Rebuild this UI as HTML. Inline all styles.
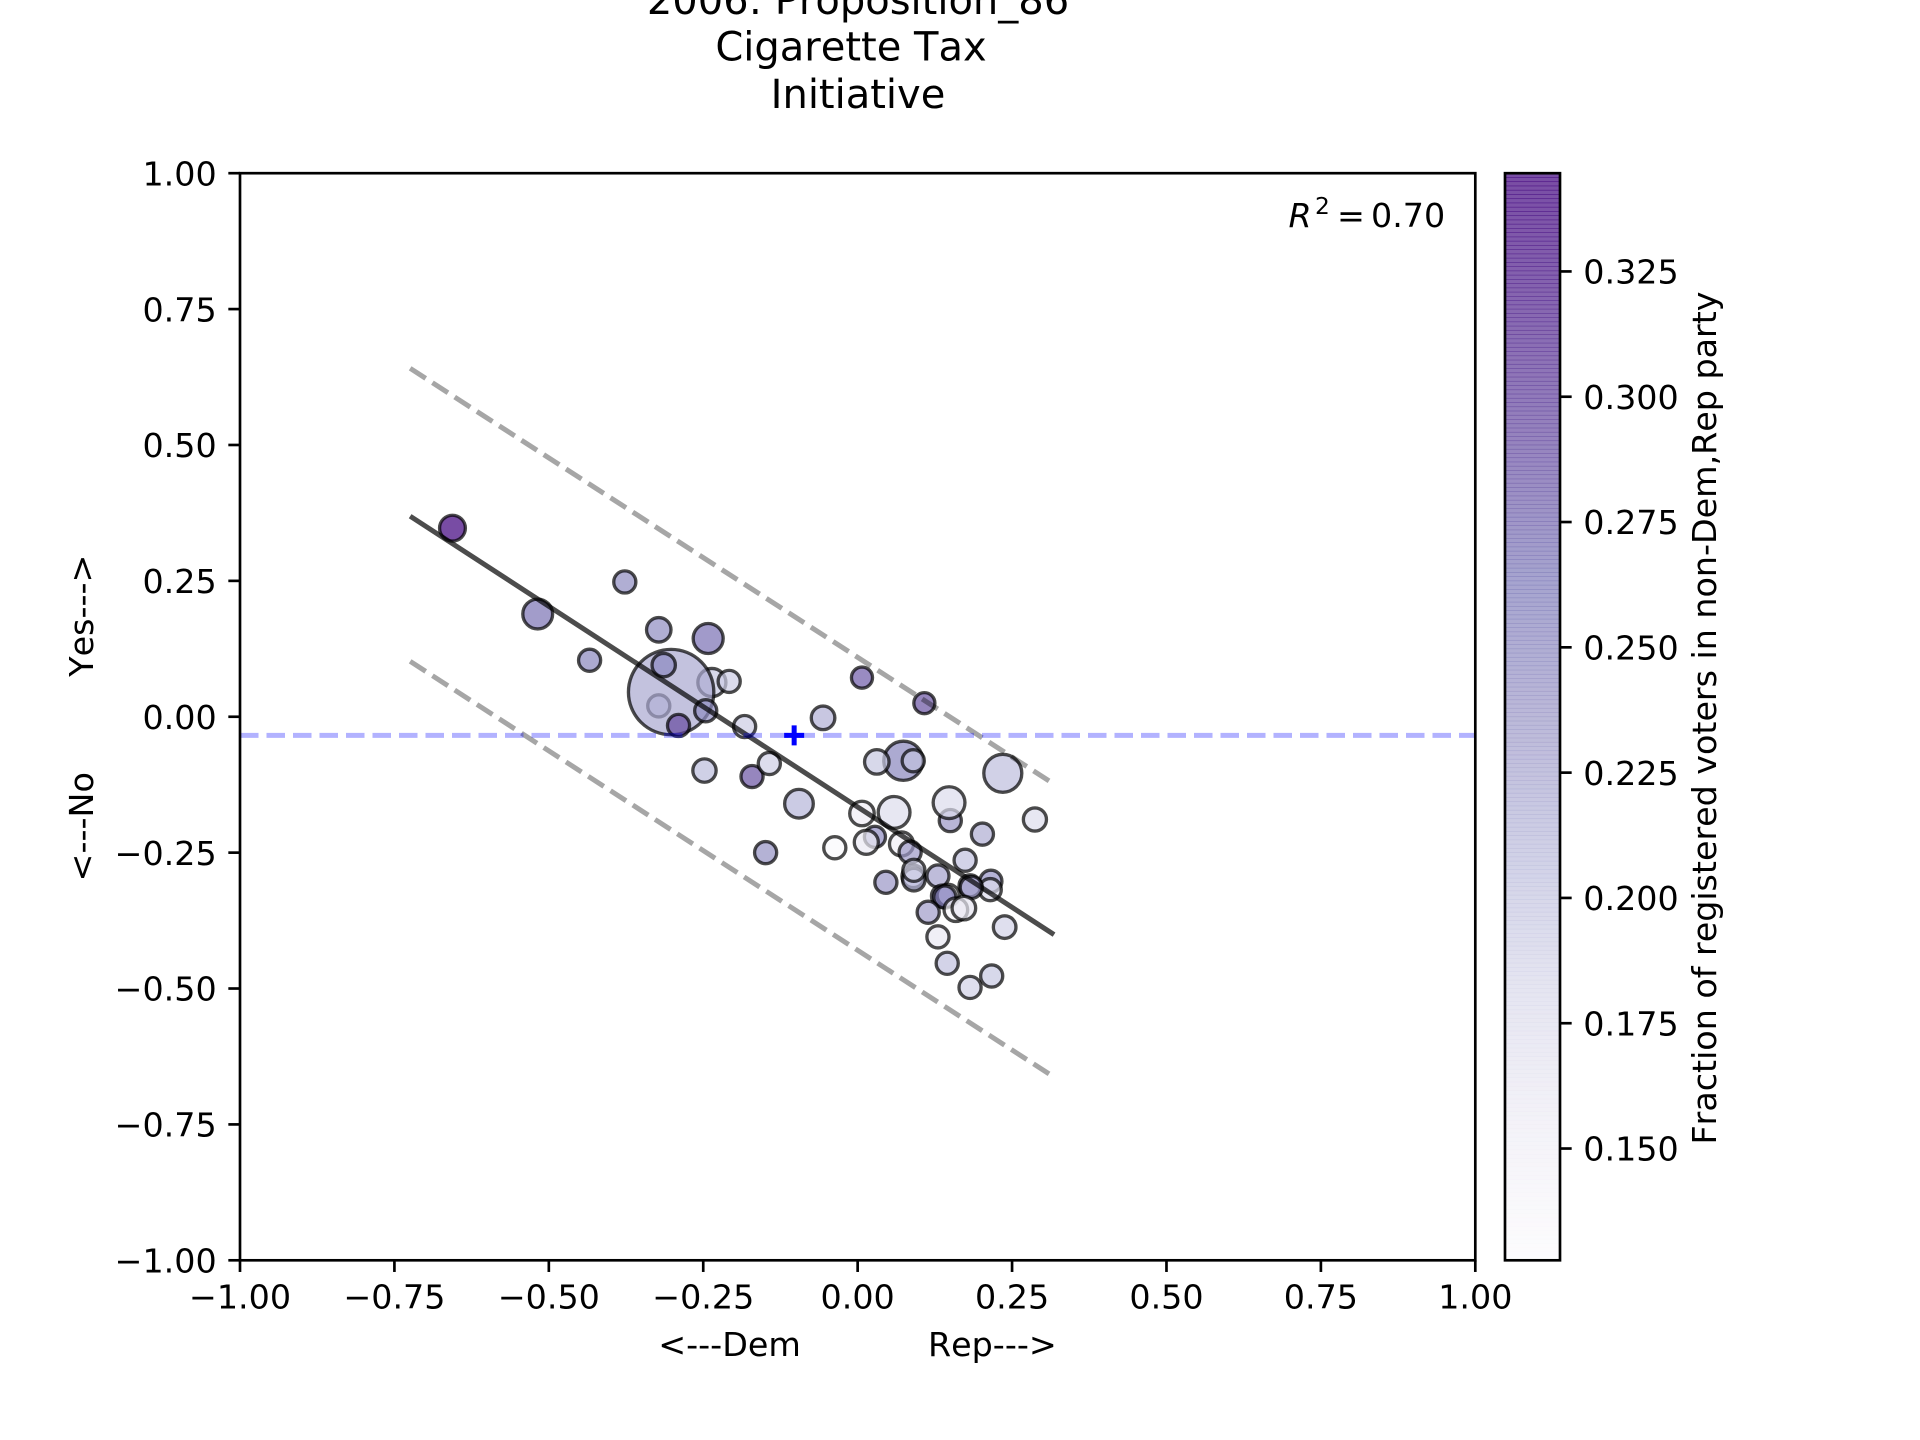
<!DOCTYPE html>
<html>
<head>
<meta charset="utf-8">
<title>2006: Proposition_86 Cigarette Tax Initiative</title>
<style>
html,body{margin:0;padding:0;background:#fff;width:1920px;height:1440px;overflow:hidden}
svg{display:block}
text{font-family:"DejaVu Sans","Liberation Sans",sans-serif;fill:#000;white-space:pre;font-kerning:none}
</style>
</head>
<body>
<svg id="chart" xmlns="http://www.w3.org/2000/svg" width="1920" height="1440" viewBox="0 0 1920 1440">
  <text x="858" y="14" font-size="40" text-anchor="middle">2006: Proposition_86</text>
  <text x="851" y="60.5" font-size="40" text-anchor="middle">Cigarette Tax</text>
  <text x="858" y="108" font-size="40" text-anchor="middle">Initiative</text>
  <g id="marks"></g>
  <g id="axes"></g>
  <text font-size="33.33"><tspan x="1288.5" y="227" font-style="italic">R</tspan><tspan x="1315" y="214" font-size="23.3">2</tspan><tspan x="1337" y="227">=</tspan><tspan x="1371" y="227">0.70</tspan></text>
  <text x="857.5" y="1356" font-size="33.33" text-anchor="middle" xml:space="preserve">&lt;---Dem            Rep---&gt;</text>
  <text transform="translate(93 718) rotate(-90)" x="0" y="0" font-size="33.33" text-anchor="middle" xml:space="preserve">&lt;---No         Yes---&gt;</text>
  <g id="colorbar"></g>
  <text transform="translate(1716 718) rotate(-90)" x="0" y="0" font-size="33.33" text-anchor="middle" textLength="853" lengthAdjust="spacing">Fraction of registered voters in non-Dem,Rep party</text>
</svg>
<script>
// Point data, in plot order
const pointX = [-0.656,-0.518,-0.377,-0.434,-0.322,-0.242,-0.322,-0.236,-0.302,-0.314,-0.208,-0.246,-0.290,-0.183,-0.248,-0.171,-0.143,-0.149,-0.095,-0.056,0.007,0.108,0.074,0.031,0.090,0.235,0.150,0.148,0.202,0.287,0.007,0.059,-0.037,0.028,0.014,0.071,0.085,0.174,0.090,0.091,0.091,0.0457,0.130,0.2157,0.2147,0.182,0.184,0.1374,0.1466,0.1412,0.1142,0.159,0.172,0.130,0.238,0.145,0.217,0.182];
const pointY = [0.347,0.189,0.248,0.104,0.160,0.144,0.020,0.063,0.0454,0.095,0.065,0.011,-0.016,-0.018,-0.099,-0.110,-0.086,-0.250,-0.160,-0.002,0.072,0.025,-0.081,-0.083,-0.081,-0.104,-0.191,-0.158,-0.216,-0.189,-0.178,-0.176,-0.241,-0.221,-0.231,-0.234,-0.249,-0.264,-0.2935,-0.2997,-0.2825,-0.3046,-0.293,-0.3027,-0.318,-0.311,-0.314,-0.330,-0.3285,-0.3316,-0.3597,-0.355,-0.352,-0.405,-0.387,-0.4536,-0.477,-0.498];
const pointSize = [60,80,44,44,54,81,44,71,656,49,44,44,44,44,49,44,44,44,74,50,40,40,138,54,44,130,44,91,44,48,54,91,44,40,52,52,44,44,46,46,44,44,44,44,44,44,44,44,44,44,44,50,50,44,46,44,44,44];
const pointFraction = [0.345,0.270,0.250,0.255,0.250,0.272,0.200,0.200,0.225,0.252,0.195,0.250,0.295,0.195,0.210,0.290,0.192,0.245,0.215,0.220,0.285,0.290,0.255,0.200,0.205,0.208,0.240,0.180,0.222,0.178,0.155,0.178,0.132,0.250,0.160,0.150,0.238,0.205,0.170,0.215,0.190,0.240,0.232,0.245,0.180,0.225,0.235,0.245,0.150,0.262,0.235,0.135,0.165,0.162,0.190,0.205,0.200,0.190];

// Fit and bound lines
const fitX = [-0.7245, 0.318];
const fitY = [0.369, -0.4008];
const upperY = [0.641, -0.124];
const lowerY = [0.102, -0.663];
const referenceY = [-0.0342];
const centerX = [-0.1028];
const centerY = [-0.0342];

// Axis ticks
const xTicks = [-1,-0.75,-0.5,-0.25,0,0.25,0.5,0.75,1];
const yTicks = [-1,-0.75,-0.5,-0.25,0,0.25,0.5,0.75,1];
const colorTicks = [0.15,0.175,0.2,0.225,0.25,0.275,0.3,0.325];
const colorMin = 0.1277;
const colorMax = 0.3446;
const purplesRamp = [[252,251,253],[239,237,245],[218,218,235],[188,189,220],[158,154,200],[128,125,186],[106,81,163],[84,39,143],[63,0,125]];

const NS = 'http://www.w3.org/2000/svg';
const L = 240, R = 1475.3, T = 173.2, B = 1260.3;
const CL = 1505, CR = 1560;
const sx = v => L + (v + 1) / 2 * (R - L);
const sy = v => B - (v + 1) / 2 * (B - T);
const sc = v => B - (v - colorMin) / (colorMax - colorMin) * (B - T);
const rad = s => Math.sqrt(s) / 2 * 240 / 72;

function ramp(v) {
  const t = Math.max(0, Math.min(1, (v - colorMin) / (colorMax - colorMin))) * (purplesRamp.length - 1);
  const i = Math.min(purplesRamp.length - 2, Math.floor(t));
  const f = t - i;
  const c = purplesRamp[i].map((a, k) => Math.round(a + (purplesRamp[i + 1][k] - a) * f));
  return 'rgb(' + c.join(',') + ')';
}
function make(parent, tag, attrs, text) {
  const el = document.createElementNS(NS, tag);
  for (const k in attrs) el.setAttribute(k, attrs[k]);
  if (text !== undefined) el.textContent = text;
  parent.appendChild(el);
  return el;
}
const fmt = (v, d) => (v < 0 ? '\u2212' : '') + Math.abs(v).toFixed(d);

const marks = document.getElementById('marks');
const axes = document.getElementById('axes');
const colorbar = document.getElementById('colorbar');

pointX.forEach((x, i) => {
  const c = make(marks, 'circle', {cx: sx(x), cy: sy(pointY[i]), r: rad(pointSize[i]), fill: ramp(pointFraction[i]), 'fill-opacity': 0.7, stroke: '#000', 'stroke-opacity': 0.7, 'stroke-width': 3.33});
  
  
});

const fitLine = make(marks, 'line', {x1: sx(fitX[0]), y1: sy(fitY[0]), x2: sx(fitX[1]), y2: sy(fitY[1]), stroke: '#000', 'stroke-opacity': 0.7, 'stroke-width': 5});



const upperLine = make(marks, 'line', {x1: sx(fitX[0]), y1: sy(upperY[0]), x2: sx(fitX[1]), y2: sy(upperY[1]), stroke: '#000', 'stroke-opacity': 0.35, 'stroke-width': 5, 'stroke-dasharray': '18.5 8'});



const lowerLine = make(marks, 'line', {x1: sx(fitX[0]), y1: sy(lowerY[0]), x2: sx(fitX[1]), y2: sy(lowerY[1]), stroke: '#000', 'stroke-opacity': 0.35, 'stroke-width': 5, 'stroke-dasharray': '18.5 8'});



const refLine = make(marks, 'line', {x1: L, y1: sy(referenceY[0]), x2: R, y2: sy(referenceY[0]), stroke: '#00f', 'stroke-opacity': 0.3, 'stroke-width': 5, 'stroke-dasharray': '18.5 8'});



const plus = make(marks, 'path', {d: 'M' + (sx(centerX[0]) - 10) + ' ' + sy(centerY[0]) + 'h20M' + sx(centerX[0]) + ' ' + (sy(centerY[0]) - 10) + 'v20', stroke: '#00f', 'stroke-width': 5, fill: 'none'});



const frame = make(axes, 'rect', {x: L, y: T, width: R - L, height: B - T, fill: 'none', stroke: '#000', 'stroke-width': 2.67});



xTicks.forEach(v => {
  const t = make(axes, 'line', {x1: sx(v), x2: sx(v), y1: B, y2: B + 11.67, stroke: '#000', 'stroke-width': 2.67});
  
  
  const l = make(axes, 'text', {x: sx(v), y: B + 48, 'font-size': 33.33, 'text-anchor': 'middle'}, fmt(v, 2));
  
  
});
yTicks.forEach(v => {
  const t = make(axes, 'line', {x1: L - 11.67, x2: L, y1: sy(v), y2: sy(v), stroke: '#000', 'stroke-width': 2.67});
  
  
  const l = make(axes, 'text', {x: L - 23.3, y: sy(v) + 12.2, 'font-size': 33.33, 'text-anchor': 'end'}, fmt(v, 2));
  
  
});

const bandCount = 256;
const bandH = (B - T) / bandCount;
for (let i = 0; i < bandCount; i++) {
  const v = colorMin + (i + 0.5) / bandCount * (colorMax - colorMin);
  const band = make(colorbar, 'rect', {x: CL, y: B - (i + 1) * bandH - 0.35, width: CR - CL, height: bandH + 0.7, fill: ramp(v), 'fill-opacity': 0.7});
  
  
}
const cFrame = make(colorbar, 'rect', {x: CL, y: T, width: CR - CL, height: B - T, fill: 'none', stroke: '#000', 'stroke-width': 2.67});


colorTicks.forEach(v => {
  const t = make(colorbar, 'line', {x1: CR, x2: CR + 11.67, y1: sc(v), y2: sc(v), stroke: '#000', 'stroke-width': 2.67});
  
  
  const l = make(colorbar, 'text', {x: CR + 23.3, y: sc(v) + 12.2, 'font-size': 33.33}, fmt(v, 3));
  
  
});
</script>
</body>
</html>
